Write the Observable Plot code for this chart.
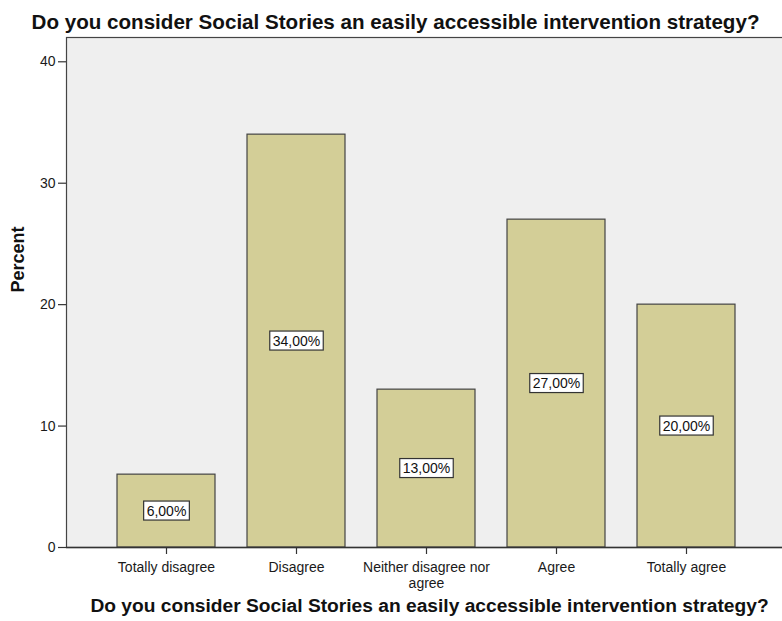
<!DOCTYPE html>
<html>
<head>
<meta charset="utf-8">
<script src="https://cdn.jsdelivr.net/npm/d3@7"></script>
<script src="https://cdn.jsdelivr.net/npm/@observablehq/plot@0.6"></script>
<style>
  html, body { margin: 0; padding: 0; background: white; overflow: hidden; width: 782px; height: 621px; }
  #chart { width: 782px; height: 621px; overflow: hidden; }
  #chart svg { max-width: none !important; width: 786px !important; height: 621px !important; display: block; }
</style>
</head>
<body>
<div id="chart"></div>
<script>
const categories = ["Totally disagree", "Disagree", "Neither disagree nor agree", "Agree", "Totally agree"];
const tickLabels = ["Totally disagree", "Disagree", "Neither disagree nor\nagree", "Agree", "Totally agree"];
const percents = [6, 34, 13, 27, 20];
const valueLabels = ["6,00%", "34,00%", "13,00%", "27,00%", "20,00%"];
const yTicks = [0, 10, 20, 30, 40];
const title = "Do you consider Social Stories an easily accessible intervention strategy?";
const xTitle = "Do you consider Social Stories an easily accessible intervention strategy?";
const yTitle = "Percent";

const data = categories.map((c, i) => ({cat: c, pct: percents[i], label: valueLabels[i]}));
const FONT = "Arial, 'Liberation Sans', sans-serif";

const chart = Plot.plot({
  width: 786,
  height: 621,
  marginTop: 37,
  marginBottom: 74,
  marginLeft: 66,
  marginRight: 0,
  style: {fontFamily: FONT, fontSize: "14px", color: "#1a1a1a", background: "white", overflow: "visible"},
  x: {domain: categories, paddingInner: 0.246, paddingOuter: 0.392, label: null},
  y: {domain: [0, 42], label: null},
  marks: [
    Plot.frame({fill: "#efefef", stroke: "#444", strokeWidth: 1.2}),
    Plot.barY(data, {x: "cat", y: "pct", fill: "#d3ce97", stroke: "#444", strokeWidth: 1.2}),
    Plot.text(data, {x: "cat", y: d => d.pct / 2, text: "label", className: "vlabel", fill: "#111", fontSize: 14}),
    Plot.axisY({ticks: yTicks, tickSize: 8, tickPadding: 3, label: null, stroke: "#333", strokeWidth: 1.2, fontSize: 14}),
    Plot.axisX({tickSize: 7, tickPadding: 6, tickFormat: d => tickLabels[categories.indexOf(d)], lineHeight: 1.15, label: null, stroke: "#333", strokeWidth: 1.2, fontSize: 14}),
    Plot.ruleY([0], {stroke: "#333", strokeWidth: 1.5}),
    Plot.text([yTitle], {text: d => d, frameAnchor: "left", dx: -48, rotate: -90, fontWeight: "bold", fontSize: 18, fill: "#111"}),
    Plot.text([xTitle], {text: d => d, frameAnchor: "bottom", dx: 3, dy: 64, fontWeight: "bold", fontSize: 19.2, fill: "#111"}),
    Plot.text([title], {text: d => d, frameAnchor: "top", dx: -31, dy: -23, fontWeight: "bold", fontSize: 20.6, fill: "#111"})
  ]
});

document.getElementById("chart").appendChild(chart);

// white boxes behind the value labels
d3.select(chart).selectAll(".vlabel text").each(function() {
  const bb = this.getBBox();
  const r = document.createElementNS("http://www.w3.org/2000/svg", "rect");
  r.setAttribute("x", bb.x - 3);
  r.setAttribute("y", bb.y - 1.5);
  r.setAttribute("width", bb.width + 6);
  r.setAttribute("height", bb.height + 3);
  r.setAttribute("fill", "white");
  r.setAttribute("stroke", "#333");
  r.setAttribute("stroke-width", "1.2");
  const t = this.getAttribute("transform");
  if (t) r.setAttribute("transform", t);
  this.parentNode.insertBefore(r, this);
});
</script>
</body>
</html>
